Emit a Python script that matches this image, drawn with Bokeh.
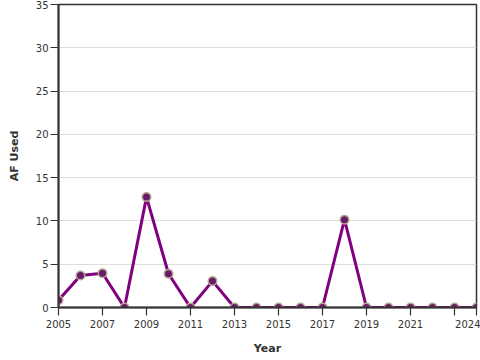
from bokeh.plotting import figure
from bokeh.models import FixedTicker, Range1d
from bokeh.embed import file_html
from bokeh.resources import INLINE

years = list(range(2005, 2025))
af_used = [0.85, 3.7, 3.95, 0, 12.75, 3.9, 0, 3.05, 0, 0, 0, 0, 0, 10.15, 0, 0, 0, 0, 0, 0]
x_ticks = [2005, 2007, 2009, 2011, 2013, 2015, 2017, 2019, 2021, 2023, 2024]
y_ticks = [0, 5, 10, 15, 20, 25, 30, 35]

p = figure(width=480, height=360, output_backend="svg", toolbar_location=None,
           x_range=Range1d(2005, 2024), y_range=Range1d(0, 35),
           min_border_left=58, min_border_right=4, min_border_top=4, min_border_bottom=53)

p.line(years, af_used, line_color="#800080", line_width=3)
p.scatter(years, af_used, size=8.5, fill_color="#6b1a6b", line_color="#b3a98e", line_width=1.5)

p.xaxis.ticker = FixedTicker(ticks=x_ticks)
p.xaxis.major_label_overrides = {2023: ""}
p.yaxis.ticker = FixedTicker(ticks=y_ticks)

for ax in (p.xaxis[0], p.yaxis[0]):
    ax.axis_line_color = "#333333"
    ax.axis_line_width = 2
    ax.major_tick_line_color = "#333333"
    ax.major_tick_line_width = 1.2
    ax.major_tick_in = 0
    ax.major_tick_out = 8
    ax.minor_tick_line_color = None
    ax.major_label_text_font = "DejaVu Sans"
    ax.major_label_text_font_size = "10px"
    ax.major_label_text_color = "#333333"
    ax.axis_label_text_font = "DejaVu Sans"
    ax.axis_label_text_font_size = "11px"
    ax.axis_label_text_font_style = "bold"
    ax.axis_label_text_color = "#333333"

p.xaxis.axis_label = "Year"
p.yaxis.axis_label = "AF Used"
p.xaxis.major_label_standoff = 4
p.yaxis.major_label_standoff = 2
p.xaxis.axis_label_standoff = 11
p.yaxis.axis_label_standoff = 12

p.xgrid.grid_line_color = None
p.ygrid.grid_line_color = "#dddddd"
p.ygrid.grid_line_width = 1

p.outline_line_color = "#333333"
p.outline_line_width = 1.5
p.background_fill_color = "white"
p.border_fill_color = "white"

open("out.html", "w").write(file_html(p, INLINE))
